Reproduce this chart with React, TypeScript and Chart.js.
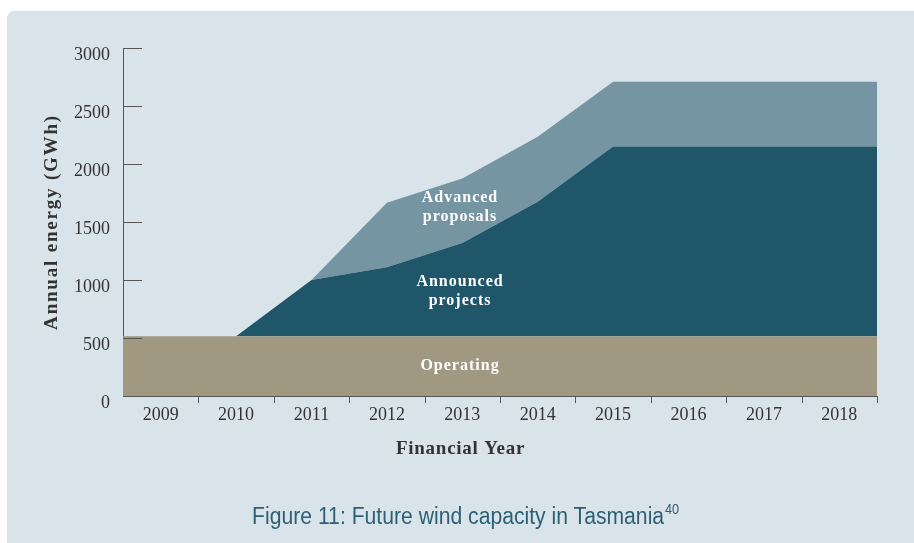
import { useEffect, useRef } from 'react';
import { Chart, registerables } from 'chart.js';

Chart.register(...registerables);

// ---- Data ----
const years = ['2009', '2010', '2011', '2012', '2013', '2014', '2015', '2016', '2017', '2018'];
const operating = [515, 515, 515, 515, 515, 515, 515, 515, 515, 515];
const announced = [0, 0, 485, 595, 805, 1160, 1635, 1635, 1635, 1635];
const advanced = [0, 0, 0, 555, 555, 560, 560, 560, 560, 560];
const seriesNames = ['Operating', 'Announced projects', 'Advanced proposals'];

const yMin = 0;
const yMax = 3000;
const yStep = 500;

// text placed inside the areas (data units)
const areaLabels = [
  { lines: ['Advanced', 'proposals'], x: 4.47, y: 1625 },
  { lines: ['Announced', 'projects'], x: 4.47, y: 900 },
  { lines: ['Operating'], x: 4.47, y: 262 },
];

const xTitle = 'Financial Year';
const yTitle = 'Annual energy (GWh)';
const caption = 'Figure 11: Future wind capacity in Tasmania';
const captionRef = '40';

// ---- Styles ----
const PANEL = '#d9e4ea';
const AXIS = '#555555';
const TEXT = '#333333';
const C_OPER = '#a09880';
const C_ANN = '#1f5669';
const C_ADV = '#7595a2';
const SERIF = '"Liberation Serif", "Times New Roman", serif';

const toPoints = (vals: number[]) => [
  { x: 0, y: vals[0] },
  ...vals.map((y, i) => ({ x: i + 0.5, y })),
  { x: vals.length, y: vals[vals.length - 1] },
];

const decor = {
  id: 'decor',
  afterDraw(chart: any) {
    const { ctx, chartArea: a, scales } = chart;
    const x = scales.x;
    const y = scales.y;
    ctx.save();
    // tick marks
    ctx.strokeStyle = AXIS;
    ctx.lineWidth = 1;
    y.ticks.forEach((t: any) => {
      const py = Math.round(y.getPixelForValue(t.value)) + 0.5;
      ctx.beginPath();
      ctx.moveTo(a.left, py);
      ctx.lineTo(a.left + 19, py);
      ctx.stroke();
    });
    for (let i = 1; i <= years.length; i++) {
      const px = Math.round(x.getPixelForValue(i)) + 0.5;
      ctx.beginPath();
      ctx.moveTo(px, a.bottom);
      ctx.lineTo(px, a.bottom + 7);
      ctx.stroke();
    }
    // area labels
    ctx.fillStyle = '#ffffff';
    ctx.font = `bold 16px ${SERIF}`;
    (ctx as any).letterSpacing = '1px';
    ctx.textAlign = 'center';
    ctx.textBaseline = 'middle';
    areaLabels.forEach((l) => {
      const cx = x.getPixelForValue(l.x);
      const cy = y.getPixelForValue(l.y);
      l.lines.forEach((s, k) => {
        ctx.fillText(s, cx, cy + (k - (l.lines.length - 1) / 2) * 19);
      });
    });
    // axis titles
    ctx.fillStyle = TEXT;
    ctx.font = `bold 19px ${SERIF}`;
    (ctx as any).letterSpacing = '0.75px';
    ctx.fillText(xTitle, chart.width / 2, a.bottom + 53);
    ctx.save();
    ctx.translate(a.left - 71, (a.top + a.bottom) / 2);
    ctx.rotate(-Math.PI / 2);
    (ctx as any).letterSpacing = '1.8px';
    ctx.fillText(yTitle, 0, 0);
    ctx.restore();
    ctx.restore();
  },
};

export default function App() {
  const ref = useRef<HTMLCanvasElement>(null);

  useEffect(() => {
    document.body.style.margin = '0';
    const chart = new Chart(ref.current as HTMLCanvasElement, {
      type: 'line',
      data: {
        datasets: [
          { label: seriesNames[0], data: toPoints(operating), backgroundColor: C_OPER, borderWidth: 0, fill: 'origin' },
          { label: seriesNames[1], data: toPoints(announced), backgroundColor: C_ANN, borderWidth: 0, fill: '-1' },
          { label: seriesNames[2], data: toPoints(advanced), backgroundColor: C_ADV, borderWidth: 0, fill: '-1' },
        ] as any,
      },
      options: {
        animation: false,
        responsive: false,
        maintainAspectRatio: false,
        devicePixelRatio: 1,
        layout: { padding: { left: 0, top: 37, right: 37, bottom: 103 } },
        elements: { point: { radius: 0, hoverRadius: 0 }, line: { tension: 0 } },
        plugins: { legend: { display: false }, tooltip: { enabled: false }, title: { display: false } },
        scales: {
          x: {
            type: 'linear',
            min: 0,
            max: years.length,
            afterBuildTicks: (s: any) => {
              s.ticks = years.map((_, i) => ({ value: i + 0.5 }));
            },
            afterFit: (s: any) => {
              s.height = 44;
            },
            ticks: {
              autoSkip: false,
              maxRotation: 0,
              padding: 8,
              color: TEXT,
              font: { family: SERIF, size: 18 },
              callback: (_v: any, i: number) => years[i],
            },
            grid: { display: false, drawTicks: false },
            border: { display: true, color: AXIS, width: 1 },
          },
          y: {
            stacked: true,
            min: yMin,
            max: yMax,
            afterFit: (s: any) => {
              s.width = 116;
            },
            ticks: {
              stepSize: yStep,
              padding: 13,
              labelOffset: 7,
              color: TEXT,
              font: { family: SERIF, size: 18 },
              callback: (v: any) => String(v),
            },
            grid: { display: false, drawTicks: false },
            border: { display: true, color: AXIS, width: 1 },
          },
        },
      } as any,
      plugins: [decor],
    });
    return () => chart.destroy();
  }, []);

  return (
    <div style={{ position: 'fixed', left: 0, top: 0, width: 914, height: 543, overflow: 'hidden', background: '#ffffff' }}>
      <div
        style={{
          position: 'absolute',
          left: 7,
          top: 11,
          width: 907,
          height: 532,
          background: PANEL,
          borderTopLeftRadius: 7,
        }}
      >
        <canvas ref={ref} width={907} height={532} style={{ position: 'absolute', left: 0, top: 0, width: 907, height: 532 }} />
        <div
          style={{
            position: 'absolute',
            left: 10,
            right: 0,
            top: 492,
            textAlign: 'center',
            fontFamily: '"Liberation Sans", sans-serif',
            fontSize: 23,
            lineHeight: '26px',
            color: '#2d6074',
            whiteSpace: 'nowrap',
            transform: 'scaleX(0.92)',
            transformOrigin: '450px 50%',
          }}
        >
          {caption}
          <sup style={{ fontSize: '0.6em', verticalAlign: 'top', lineHeight: '14px', marginLeft: 1 }}>{captionRef}</sup>
        </div>
      </div>
    </div>
  );
}
